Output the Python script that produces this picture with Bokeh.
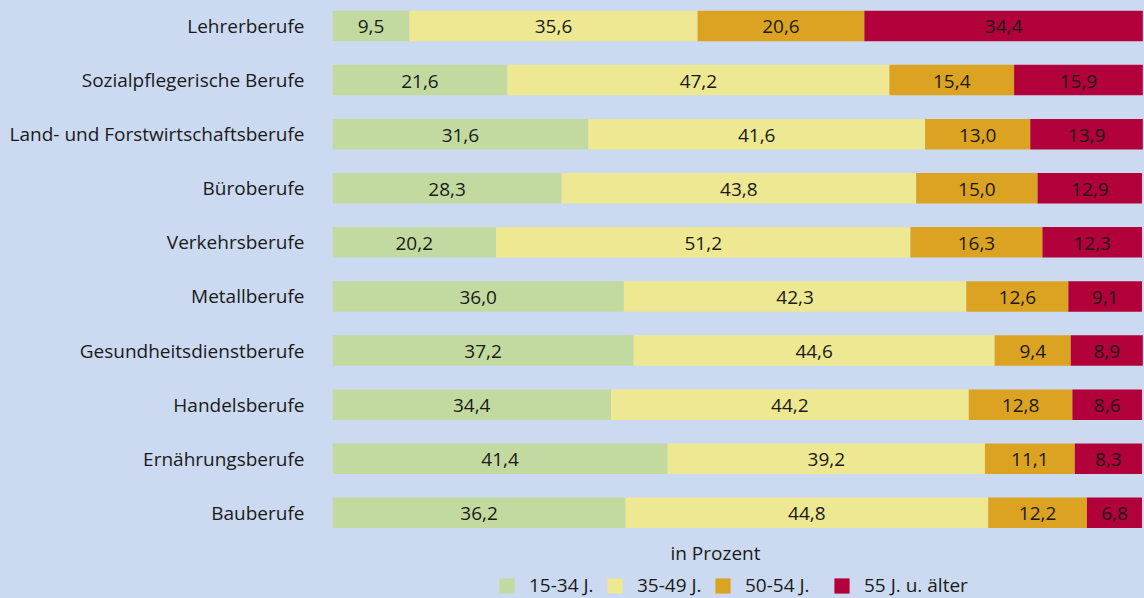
import numpy as np
from bokeh.plotting import figure
from bokeh.models import Range1d, FixedTicker, ColumnDataSource, Legend, LegendItem, Label
from bokeh.core.properties import value
from bokeh.embed import file_html
from bokeh.resources import INLINE

categories = [
    "Lehrerberufe",
    "Sozialpflegerische Berufe",
    "Land- und Forstwirtschaftsberufe",
    "Büroberufe",
    "Verkehrsberufe",
    "Metallberufe",
    "Gesundheitsdienstberufe",
    "Handelsberufe",
    "Ernährungsberufe",
    "Bauberufe",
]
age_15_34 = [9.5, 21.6, 31.6, 28.3, 20.2, 36.0, 37.2, 34.4, 41.4, 36.2]
age_35_49 = [35.6, 47.2, 41.6, 43.8, 51.2, 42.3, 44.6, 44.2, 39.2, 44.8]
age_50_54 = [20.6, 15.4, 13.0, 15.0, 16.3, 12.6, 9.4, 12.8, 11.1, 12.2]
age_55_up = [34.4, 15.9, 13.9, 12.9, 12.3, 9.1, 8.9, 8.6, 8.3, 6.8]
series_names = ["15-34 J.", "35-49 J.", "50-54 J.", "55 J. u. älter"]
axis_title = "in Prozent"

colors = ["#c2da9f", "#ede891", "#dca322", "#b2003a"]
BG = "#cbdaf0"
TXT = "#1a1a1a"
FONT = "Open Sans"
FS = "19px"

series_values = [age_15_34, age_35_49, age_50_54, age_55_up]
ypos = list(range(len(categories)))

p = figure(width=1144, height=598,
           x_range=Range1d(0, 100.31), y_range=Range1d(10.584, -0.4714),
           output_backend="svg", toolbar_location=None, x_axis_location=None,
           min_border_left=332, min_border_right=0, min_border_top=0, min_border_bottom=0,
           background_fill_color=BG, border_fill_color=BG, outline_line_color=None)
p.grid.visible = False

yax = p.yaxis[0]
yax.ticker = FixedTicker(ticks=ypos)
yax.major_label_overrides = {i: c for i, c in zip(ypos, categories)}
yax.axis_line_color = None
yax.major_tick_line_color = None
yax.minor_tick_line_color = None
yax.major_tick_out = 0
yax.major_tick_in = 0
yax.minor_tick_out = 0
yax.major_label_standoff = 28
yax.major_label_text_font = FONT
yax.major_label_text_font_size = FS
yax.major_label_text_color = TXT

renderers = []
left = np.zeros(len(categories))
for name, vals, col in zip(series_names, series_values, colors):
    vals = np.array(vals)
    right = left + vals
    src = ColumnDataSource(dict(
        y=ypos, left=left, right=right, mid=left + vals / 2,
        lab=[f"{v:.1f}".replace(".", ",") for v in vals]))
    r = p.hbar(y="y", left="left", right="right", height=0.564, source=src,
               fill_color=col, line_color=None)
    renderers.append(r)
    p.text(x="mid", y="y", text="lab", source=src, text_align="center",
           text_baseline="middle", text_font=value(FONT), text_font_size=FS,
           text_color=TXT, y_offset=1)
    left = right

p.add_layout(Label(x=47.31, y=9.752, text=axis_title, text_align="center",
                   text_baseline="middle", text_font=FONT, text_font_size=FS,
                   text_color=TXT))

legend_x = [165, 273, 381, 500]
for name, r, lx in zip(series_names, renderers, legend_x):
    lg = Legend(items=[LegendItem(label=name, renderers=[r])],
                location=(lx, 0), orientation="horizontal",
                glyph_width=19, glyph_height=19, label_standoff=13,
                padding=0, margin=0, spacing=0,
                background_fill_alpha=0, border_line_color=None,
                label_text_font=FONT, label_text_font_size=FS,
                label_text_color=TXT)
    p.add_layout(lg)

html = file_html(p, INLINE)
html = html.replace("</head>", "<style>html,body{margin:0;padding:0;background:%s;overflow:hidden}</style></head>" % BG, 1)
open("out.html", "w").write(html)
